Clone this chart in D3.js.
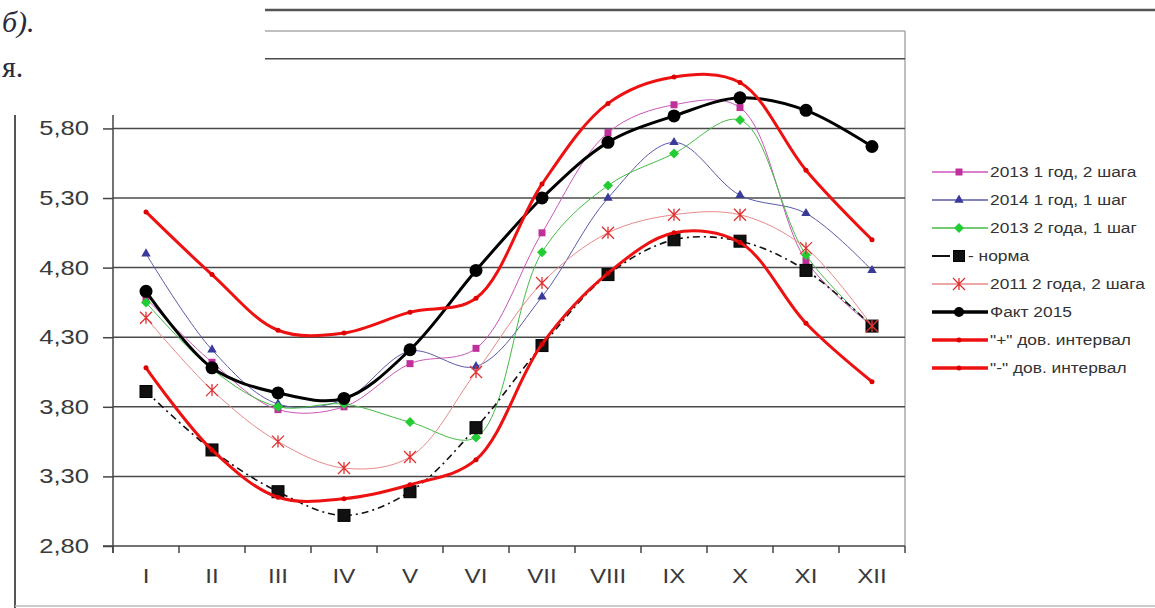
<!DOCTYPE html>
<html><head><meta charset="utf-8">
<script src="https://cdn.jsdelivr.net/npm/d3@7"></script>
<style>body{margin:0;background:#fff}svg{display:block}</style>
</head><body>
<svg id="c" width="1155" height="608"></svg>
<script>
const months = ["I","II","III","IV","V","VI","VII","VIII","IX","X","XI","XII"];
const yTicks = [2.8,3.3,3.8,4.3,4.8,5.3,5.8,6.3];
const s2013_1y2s = [4.58,4.12,3.78,3.80,4.11,4.22,5.05,5.77,5.97,5.95,4.85,4.38];
const s2014_1y1s = [4.90,4.21,3.82,3.85,4.20,4.09,4.59,5.30,5.70,5.32,5.19,4.78];
const s2013_2y1s = [4.55,4.07,3.80,3.82,3.69,3.58,4.91,5.39,5.62,5.86,4.89,4.38];
const norma      = [3.91,3.49,3.19,3.02,3.19,3.65,4.24,4.75,5.00,4.99,4.78,4.38];
const s2011_2y2s = [4.44,3.92,3.55,3.36,3.44,4.05,4.69,5.05,5.18,5.18,4.94,4.38];
const fact2015   = [4.63,4.08,3.90,3.86,4.21,4.78,5.30,5.70,5.89,6.02,5.93,5.67];
const ciPlus     = [5.20,4.75,4.35,4.33,4.48,4.58,5.40,5.98,6.17,6.13,5.50,5.00];
const ciMinus    = [4.08,3.49,3.15,3.14,3.24,3.42,4.25,4.76,5.05,4.98,4.40,3.98];
const legendLabels = ["2013 1 год, 2 шага","2014 1 год, 1 шаг","2013 2 года, 1 шаг","- норма","2011 2 года, 2 шага","Факт 2015","\"+\" дов. интервал","\"-\" дов. интервал"];

const series = [
  {name:legendLabels[0], data:s2013_1y2s, color:"#cc55bb", mcolor:"#c0309a", w:1, marker:"square", ms:7},
  {name:legendLabels[1], data:s2014_1y1s, color:"#5a5aa8", mcolor:"#3a3a9a", w:1, marker:"triangle", ms:8},
  {name:legendLabels[2], data:s2013_2y1s, color:"#44bb44", mcolor:"#22cc33", w:1, marker:"diamond", ms:10},
  {name:legendLabels[3], data:norma, color:"#111", mcolor:"#111", w:1.6, marker:"bigsquare", ms:12, dash:"7,4,2,4"},
  {name:legendLabels[4], data:s2011_2y2s, color:"#e88a8a", mcolor:"#e03030", w:1, marker:"asterisk", ms:12},
  {name:legendLabels[5], data:fact2015, color:"#000", mcolor:"#000", w:3, marker:"circle", ms:13},
  {name:legendLabels[6], data:ciPlus, color:"#ee1111", mcolor:"#dd0000", w:3, marker:"dot", ms:5},
  {name:legendLabels[7], data:ciMinus, color:"#ee1111", mcolor:"#dd0000", w:3, marker:"dot", ms:5}
];

const svg = d3.select("#c");
const L=113, R=905, T=31, B=546;
const x = d3.scaleBand().domain(months).range([L,R]).padding(0);
const y = d3.scaleLinear().domain([2.8,6.5]).range([B,T]);
const cx = m => x(m)+x.bandwidth()/2;

svg.append("line").attr("x1",L).attr("x2",R).attr("y1",T).attr("y2",T).attr("stroke","#aaa").attr("stroke-width",1.5);
svg.append("line").attr("x1",R).attr("x2",R).attr("y1",T).attr("y2",B).attr("stroke","#aaa").attr("stroke-width",1.5);
svg.append("line").attr("x1",15).attr("x2",15).attr("y1",0).attr("y2",608).attr("stroke","#555").attr("stroke-width",2);
svg.append("line").attr("x1",15).attr("x2",1155).attr("y1",606).attr("y2",606).attr("stroke","#bbb").attr("stroke-width",1.5);

svg.append("g").selectAll("line").data(yTicks.slice(1)).join("line")
  .attr("x1",L).attr("x2",R).attr("y1",d=>y(d)).attr("y2",d=>y(d))
  .attr("stroke","#4a4a4a").attr("stroke-width",1.5);

const yAxis = d3.axisLeft(y).tickValues(yTicks).tickSize(10).tickPadding(14)
  .tickFormat(d=>d3.format(".2f")(d).replace(".",","));
const gy = svg.append("g").attr("transform",`translate(${L},0)`).call(yAxis);
gy.select(".domain").attr("stroke","#444").attr("stroke-width",1.5).attr("d",`M-0,${T}V${B+7}`);
gy.selectAll(".tick line").attr("stroke","#444").attr("stroke-width",1.5);
gy.selectAll(".tick text").attr("font-family","Liberation Sans, Arial, sans-serif").attr("font-size",20).attr("fill","#3a3a3a")
  .each(function(){const t=d3.select(this);const xx=+t.attr("x");t.attr("transform",`scale(1.28,1)`).attr("x",xx/1.28);});

const xb = d3.scaleLinear().domain([0,12]).range([L,R]);
const gx = svg.append("g").attr("transform",`translate(0,${B})`);
gx.append("line").attr("x1",L-10).attr("x2",R).attr("stroke","#444").attr("stroke-width",1.5);
gx.selectAll(".tk").data(d3.range(13)).join("line").attr("class","tk")
  .attr("x1",d=>xb(d)).attr("x2",d=>xb(d)).attr("y1",0).attr("y2",7).attr("stroke","#444").attr("stroke-width",1.5);
gx.selectAll(".lb").data(months).join("text").attr("class","lb")
  .attr("transform",d=>`translate(${cx(d)},37) scale(1.15,1)`)
  .attr("text-anchor","middle").attr("font-family","Liberation Sans, Arial, sans-serif")
  .attr("font-size",21).attr("fill","#3a3a3a").text(d=>d);

const line = d3.line().x((d,i)=>cx(months[i])).y(d=>y(d)).curve(d3.curveCatmullRom.alpha(0.5));
const gl = svg.append("g");

function drawMarker(g, type, px, py, s, col){
  if(type==="square") g.append("rect").attr("x",px-s/2).attr("y",py-s/2).attr("width",s).attr("height",s).attr("fill",col);
  else if(type==="bigsquare") g.append("rect").attr("x",px-s/2).attr("y",py-s/2).attr("width",s).attr("height",s).attr("fill","#111").attr("stroke","#000");
  else if(type==="triangle") g.append("path").attr("d",d3.symbol(d3.symbolTriangle, s*s*0.6)()).attr("transform",`translate(${px},${py})`).attr("fill",col);
  else if(type==="diamond") g.append("path").attr("d",`M0,${-s/2}L${s/2},0L0,${s/2}L${-s/2},0Z`).attr("transform",`translate(${px},${py})`).attr("fill",col);
  else if(type==="circle" || type==="dot") g.append("circle").attr("cx",px).attr("cy",py).attr("r",s/2).attr("fill",col);
  else if(type==="asterisk"){
    const h=s/2;
    g.append("path").attr("d",`M${-h},${-h}L${h},${h}M${-h},${h}L${h},${-h}M0,${-h}L0,${h}`).attr("transform",`translate(${px},${py})`).attr("stroke",col).attr("stroke-width",1.3).attr("fill","none");
  }
}

series.forEach(s=>{
  const g = gl.append("g");
  g.append("path").datum(s.data).attr("d",line).attr("fill","none").attr("stroke",s.color)
    .attr("stroke-width",s.w).attr("stroke-dasharray",s.dash||null).attr("stroke-linejoin","round");
  s.data.forEach((v,i)=>drawMarker(g,s.marker,cx(months[i]),y(v),s.ms,s.mcolor));
});

const lg = svg.append("g");
series.forEach((s,i)=>{
  const yy = 172 + i*28;
  const g = lg.append("g");
  if(s.dash){
    g.append("line").attr("x1",932).attr("x2",950).attr("y1",yy).attr("y2",yy).attr("stroke",s.color).attr("stroke-width",2);
  } else {
    g.append("line").attr("x1",932).attr("x2",988).attr("y1",yy).attr("y2",yy).attr("stroke",s.color).attr("stroke-width",s.w===3?3.5:1.5);
  }
  drawMarker(g,s.marker,959,yy,s.marker==="bigsquare"?11:(s.marker==="circle"?10:s.ms),s.mcolor);
  g.append("text").attr("transform",`translate(${s.dash?968:990},${yy+5}) scale(1.12,1)`)
    .attr("font-family","Liberation Sans, Arial, sans-serif").attr("font-size",15.5).attr("fill","#333").text(s.name);
});

svg.append("rect").attr("x",0).attr("y",0).attr("width",265).attr("height",115).attr("fill","#fff");
svg.append("line").attr("x1",265).attr("x2",1155).attr("y1",10).attr("y2",10).attr("stroke","#555").attr("stroke-width",2.5);
svg.append("text").attr("x",2).attr("y",32).attr("font-family","Liberation Serif, Times New Roman, serif")
  .attr("font-style","italic").attr("font-size",30).attr("fill","#2a2a3a").text("б).");
svg.append("text").attr("x",2).attr("y",77).attr("font-family","Liberation Serif, Times New Roman, serif")
  .attr("font-size",30).attr("fill","#2a2a3a").text("я.");
</script>
</body></html>
